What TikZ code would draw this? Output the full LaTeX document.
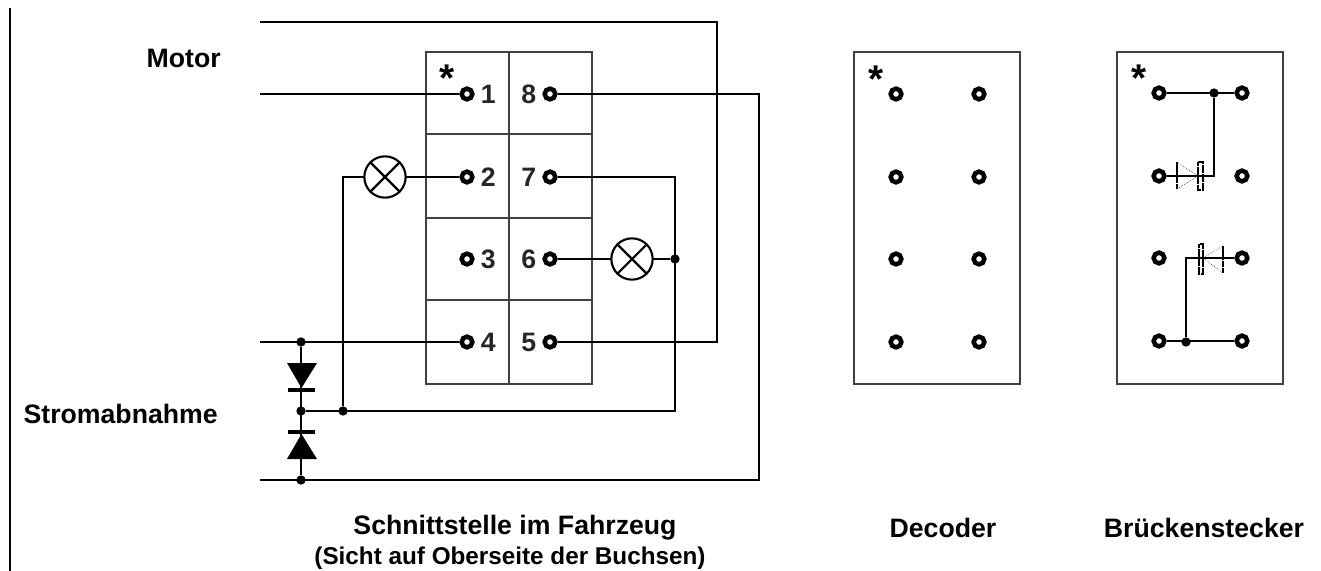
\documentclass[tikz,border=0pt]{standalone}
\usepackage{fontspec}
\setmainfont{Liberation Sans}
\usetikzlibrary{positioning}

\tikzset{
	wire/.style={line width=2.2pt},
	thinline/.style={draw=black!75, line width=0.8pt},
	thinbox/.style={thinline, minimum width=124.5pt, minimum height=249pt, inner sep=0pt, outer sep=0pt, anchor=north west},
	socket/.style={circle, draw=black, fill=white, line width=3.4pt, minimum size=8pt, inner sep=0pt},
	joint/.style={circle, fill=black, minimum size=7pt, inner sep=0pt},
	lamp/.style={circle, draw=black, fill=white, line width=1.6pt, minimum size=31pt, inner sep=0pt},
	label/.style={font=\bfseries\fontsize{20}{22}\selectfont, inner sep=0pt},
	subcaption/.style={font=\bfseries\fontsize{18.2}{20}\selectfont, inner sep=0pt},
	pinno/.style={font=\bfseries\fontsize{20}{22}\selectfont, inner sep=0pt, text=black!85},
	star/.style={font=\bfseries\fontsize{29}{29}\selectfont, inner sep=0pt},
	openbar/.style={line width=0.8pt, dash pattern=on 3pt off 0.4pt},
	opentri/.style={line width=0.4pt, densely dotted},
	openbase/.style={line width=1.3pt, dash pattern=on 5pt off 0.5pt},
}

\begin{document}
\begin{tikzpicture}[x=0.75pt, y=-0.75pt]
	\useasboundingbox (0,0) rectangle (1321,571);

	% frame line at the left
	\coordinate (top) at (10,8);
	\coordinate (bot) at (10,571);
	\draw[line width=1.2pt] (top) -- (bot);

	% boxes
	\node[thinbox] (iface) at (426,52) {};
	\node[thinbox] (dec) at (854,52) {};
	\node[thinbox] (bridge) at (1117,52) {};
	\coordinate (m0) at (509,52);
	\coordinate (m1) at (509,384);
	\draw[thinline] (m0) -- (m1);
	\foreach \i/\y in {1/134, 2/218, 3/300} {
		\coordinate (l\i) at (426,\y);
		\coordinate (r\i) at (592,\y);
		\draw[thinline] (l\i) -- (r\i);
	}

	% sockets of the interface
	\foreach \n/\y in {1/94, 2/177, 3/259, 4/342} {
		\node[socket] (s\n) at (467,\y) {};
		\node[pinno, right=4.5pt of s\n] (t\n) {\n};
	}
	\foreach \n/\y in {8/94, 7/177, 6/259, 5/342} {
		\node[socket] (s\n) at (550,\y) {};
		\node[pinno, left=4.5pt of s\n] (t\n) {\n};
	}

	% sockets of the decoder
	\foreach \n/\y in {1/94, 2/177, 3/259, 4/342} {
		\node[socket] (d\n) at (896,\y) {};
		\node[socket] (e\n) at (979,\y) {};
	}

	% sockets of the bridge plug
	\foreach \n/\y in {1/93, 2/176, 3/258, 4/341} {
		\node[socket] (b\n) at (1159,\y) {};
		\node[socket] (c\n) at (1242,\y) {};
	}

	% stars
	\node[star] (star1) at (447,78) {*};
	\node[star] (star2) at (876,79) {*};
	\node[star] (star3) at (1139,78) {*};

	% wires
	\coordinate (w5a) at (260,22);
	\coordinate (w5b) at (717,22);
	\coordinate (w5c) at (717,342);
	\draw[wire] (w5a) -- (w5b) -- (w5c) -- (s5);
	\coordinate (w1) at (260,94);
	\draw[wire] (w1) -- (s1);
	\coordinate (w8a) at (759,94);
	\coordinate (w8b) at (759,480);
	\coordinate (w8c) at (260,480);
	\draw[wire] (s8) -- (w8a) -- (w8b) -- (w8c);
	\coordinate (w4) at (260,342);
	\draw[wire] (w4) -- (s4);

	% lamps
	\node[joint] (j1) at (301,342) {};
	\node[joint] (j2) at (301,411) {};
	\node[joint] (j3) at (301,480) {};
	\node[joint] (j4) at (343,411) {};
	\node[joint] (j5) at (675,259) {};
	\coordinate (c2) at (343,177);
	\coordinate (c7) at (675,177);
	\coordinate (c0) at (675,411);
	\draw[wire] (j1) -- (j3);
	\draw[wire] (j2) -- (c0) -- (c7) -- (s7);
	\draw[wire] (j4) -- (c2) -- (s2);
	\draw[wire] (s6) -- (j5);
	\node[lamp] (la) at (385,177) {};
	\node[lamp] (lb) at (632,259) {};
	\draw[line width=1.6pt] (la.45) -- (la.225) (la.135) -- (la.315);
	\draw[line width=1.6pt] (lb.45) -- (lb.225) (lb.135) -- (lb.315);

	% diodes
	\fill (287,363) -- (317,363) -- (301.5,388) -- cycle;
	\draw[line width=3pt] (288,390) -- (315,390);
	\fill (287,459) -- (317,459) -- (301.5,434) -- cycle;
	\draw[line width=3pt] (288,432) -- (315,432);

	% bridge wires
	\node[joint] (k1) at (1214,93) {};
	\node[joint] (k2) at (1186,342) {};
	\coordinate (k3) at (1214,176);
	\coordinate (k4) at (1186,258);
	\draw[wire] (b1) -- (c1);
	\draw[wire] (k1) -- (k3) -- (b2);
	\draw[wire] (b4) -- (c4);
	\draw[wire] (k2) -- (k4) -- (c3);

	% open diodes
	\draw[opentri] (1177,162) -- (1198,176) -- (1177,189);
	\draw[openbase] (1177,162) -- (1177,189);
	\draw[openbar] (1198,162) rectangle (1203,190);
	\draw[opentri] (1223,246) -- (1203,258) -- (1223,273);
	\draw[openbase] (1223,246) -- (1223,273);
	\draw[openbar] (1199,244) rectangle (1203,274);

	% labels
	\node[label, anchor=east] (motor) at (221,58) {Motor};
	\node[label, anchor=east] (strom) at (218,414) {Stromabnahme};
	\node[label] (cap1) at (515,528) {Schnittstelle im Fahrzeug};
	\node[subcaption] (cap1b) at (510,558) {(Sicht auf Oberseite der Buchsen)};
	\node[label] (cap2) at (943,528) {Decoder};
	\node[label] (cap3) at (1204,528) {Brückenstecker};
\end{tikzpicture}
\end{document}
